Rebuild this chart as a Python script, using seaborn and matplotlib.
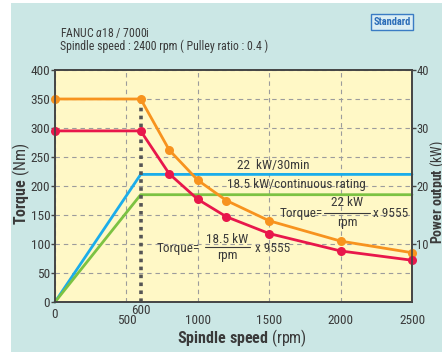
import numpy as np
import pandas as pd
import matplotlib
matplotlib.use("Agg")
import matplotlib.pyplot as plt
import matplotlib.transforms as mtransforms
from matplotlib import font_manager
from matplotlib.patches import Rectangle
import seaborn as sns

# data
speed = [0, 600, 800, 1000, 1200, 1500, 2000, 2500]
torque_22kw = [350, 350, 262, 210, 175, 140, 105, 85]
torque_18kw = [295, 295, 221, 177, 147, 118, 88, 72]
power_speed = [0, 600, 2500]
power_30min = [0, 22, 22]
power_cont = [0, 18.5, 18.5]

x_ticks = [0, 500, 1000, 1500, 2000, 2500]
y_ticks = [0, 50, 100, 150, 200, 250, 300, 350, 400]
y2_ticks = [10, 20, 30, 40]

ORANGE = "#f7931e"
RED = "#e8174b"
BLUE = "#1badea"
GREEN = "#7cc242"
TEAL = "#cbe7e5"
YELLOW = "#fff8c6"
TXT = "#3a3a3a"

# a condensed face if one is around
font = "DejaVu Sans"
for cand in ["Liberation Sans Narrow", "DejaVu Sans Condensed", "Roboto Condensed",
             "Open Sans Condensed", "Liberation Sans"]:
    try:
        font_manager.findfont(cand, fallback_to_default=False)
        font = cand
        break
    except Exception:
        pass

sns.set_style("white")
plt.rcParams["font.family"] = [font, "DejaVu Sans"]
plt.rcParams["mathtext.fontset"] = "custom"
plt.rcParams["mathtext.bf"] = font + ":bold"
plt.rcParams["mathtext.rm"] = font
plt.rcParams["mathtext.it"] = font + ":italic"

torque = pd.DataFrame({
    "speed": speed * 2,
    "torque": torque_22kw + torque_18kw,
    "rating": ["22"] * len(speed) + ["18.5"] * len(speed),
})
power = pd.DataFrame({
    "speed": power_speed * 2,
    "power": power_30min + power_cont,
    "rating": ["22"] * 3 + ["18.5"] * 3,
})

fig = plt.figure(figsize=(4.42, 3.52), dpi=100, facecolor="white")
fig.patches.append(Rectangle((11 / 442, 0), 1, 1 - 3 / 352, transform=fig.transFigure,
                             facecolor=TEAL, edgecolor="none", zorder=-10))

ax2 = fig.add_axes([55 / 442, 1 - 302 / 352, 357 / 442, 232 / 352])
ax = ax2.twinx()
# torque axis on the left, drawn above power axis
ax.yaxis.tick_left()
ax.yaxis.set_label_position("left")
ax2.yaxis.tick_right()
ax2.yaxis.set_label_position("right")
ax.set_zorder(ax2.get_zorder() + 1)
ax.patch.set_visible(False)
ax2.set_facecolor(YELLOW)

# power curves
sns.lineplot(data=power, x="speed", y="power", hue="rating", palette={"22": BLUE, "18.5": GREEN},
             ax=ax2, lw=2, legend=False, clip_on=False)

# torque curves
sns.lineplot(data=torque, x="speed", y="torque", hue="rating", palette={"22": ORANGE, "18.5": RED},
             ax=ax, lw=2, marker="o", markersize=6.5, markeredgewidth=0, legend=False, clip_on=False)
ax.vlines(speed[1], 0, torque_22kw[1], colors="#555555", linestyles=(0, (1, 1.2)), lw=2.6, zorder=1)

ax2.set_xlim(0, 2500)
ax2.set_ylim(0, 40)
ax2.set_yticks(y2_ticks)
ax2.set_yticks([5, 15, 25, 35], minor=True)
ax2.grid(True, which="both", axis="y", ls=(0, (4, 3.5)), color="#9c9c9c", lw=0.8)
ax2.grid(True, which="major", axis="x", ls=(0, (4, 3.5)), color="#9c9c9c", lw=0.8)
ax2.tick_params(axis="y", which="major", length=3, width=1, color="#444", pad=0,
                labelsize=9, labelcolor=TXT)
ax2.tick_params(axis="y", which="minor", length=0)
ax2.set_ylabel(r"$\bf{Power\ output}$ (kW)", fontsize=10, color=TXT)
ax2.yaxis.set_label_coords((428.5 - 55) / 357, (302 - 192) / 232)

ax.set_ylim(0, 400)
ax.set_yticks(y_ticks)
ax.tick_params(axis="y", length=3, width=1, color="#444", pad=0.5, labelsize=9.5, labelcolor=TXT)
ax.set_ylabel(r"$\bf{Torque}$ (Nm)", fontsize=11.5, color=TXT)
ax.yaxis.set_label_coords((32 - 55) / 357, (302 - 184) / 232)

ax2.set_xticks(x_ticks)
ax2.set_xticks([600], minor=True)
ax2.set_xticklabels([str(t) for t in x_ticks])
ax2.set_xticklabels(["600"], minor=True)
ax2.tick_params(axis="x", which="major", length=0, pad=9, labelsize=9.5, labelcolor=TXT)
ax2.tick_params(axis="x", which="minor", length=0, pad=1.5, labelsize=9.5, labelcolor=TXT)
ax2.set_xlabel(r"$\bf{Spindle\ speed}$ (rpm)", fontsize=11.5, color=TXT)
ax2.xaxis.set_label_coords((242 - 55) / 357, (302 - 327) / 232)
lab0 = ax2.get_xticklabels()[0]
lab0.set_transform(lab0.get_transform() + mtransforms.ScaledTranslation(0, 5 / 72, fig.dpi_scale_trans))

for a in (ax, ax2):
    for s in a.spines.values():
        s.set_color("#444444")
        s.set_linewidth(1.2)

# annotations
fs = 9.5
ax.text(1530, 236, "22  kW/30min", fontsize=fs, color=TXT, ha="center", va="center")
ax.text(1690, 203, "18.5 kW/continuous rating", fontsize=fs, color=TXT, ha="center", va="center")

ax.text(1576, 153, "Torque=", fontsize=fs, color=TXT, ha="left", va="center")
ax.text(2045, 171, "22 kW", fontsize=fs, color=TXT, ha="center", va="center")
ax.text(2045, 137, "rpm", fontsize=fs, color=TXT, ha="center", va="center")
ax.plot([1884, 2206], [154, 154], color=TXT, lw=0.8)
ax.text(2227, 153, "x 9555", fontsize=fs, color=TXT, ha="left", va="center")

ax.text(714, 93, "Torque=", fontsize=fs, color=TXT, ha="left", va="center")
ax.text(1208, 108, "18.5 kW", fontsize=fs, color=TXT, ha="center", va="center")
ax.text(1208, 80, "rpm", fontsize=fs, color=TXT, ha="center", va="center")
ax.plot([1050, 1366], [94, 94], color=TXT, lw=0.8)
ax.text(1400, 93, "x 9555", fontsize=fs, color=TXT, ha="left", va="center")

fig.text(60 / 442, 1 - 33 / 352, r"FANUC $\alpha$18 / 7000i", fontsize=8.5, color=TXT, va="center")
fig.text(60 / 442, 1 - 46 / 352, "Spindle speed : 2400 rpm ( Pulley ratio : 0.4 )", fontsize=8.5,
         color=TXT, va="center")
fig.text(392 / 442, 1 - 22 / 352, "Standard", fontsize=7.5, fontweight="bold", color="#2a6cb8",
         ha="center", va="center",
         bbox=dict(boxstyle="square,pad=0.25", facecolor="#dbeef4", edgecolor="#3a7cc4", lw=1))

fig.savefig("out.png", dpi=100, facecolor=fig.get_facecolor())
